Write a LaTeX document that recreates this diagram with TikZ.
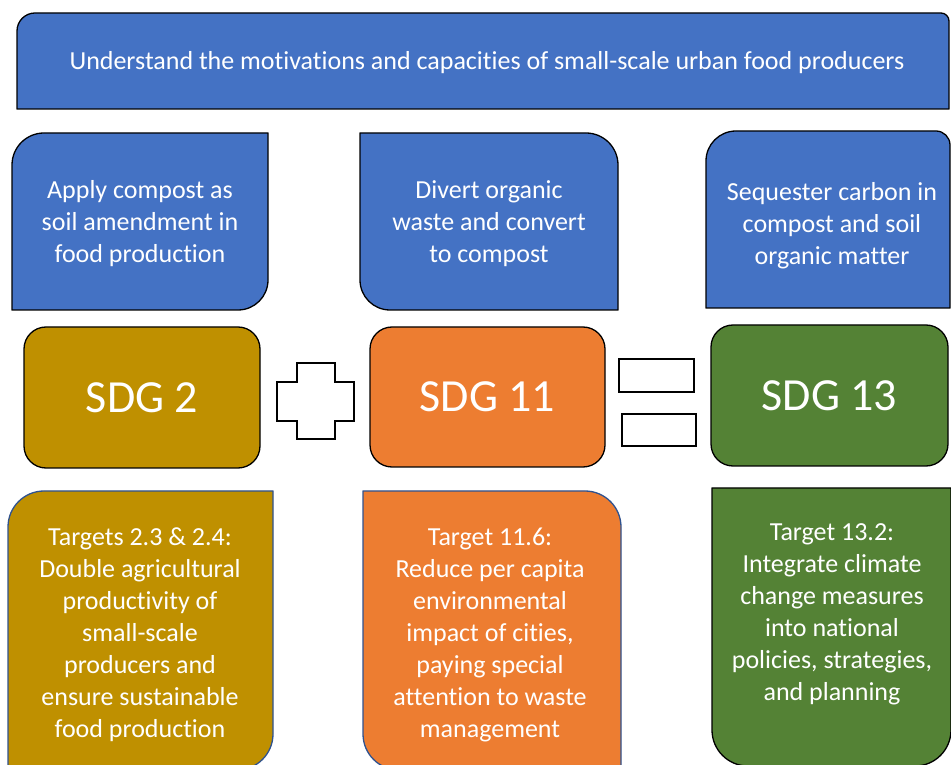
\documentclass[tikz,border=0pt]{standalone}
\usepackage{fontspec}
\setmainfont{Carlito}[Ligatures=CommonOff]
\definecolor{sdgblue}{HTML}{4472C4}
\definecolor{sdggold}{HTML}{BF9000}
\definecolor{sdgorange}{HTML}{ED7D31}
\definecolor{sdggreen}{HTML}{548235}
\definecolor{edgeblue}{HTML}{2F528F}
\tikzset{
  goalbox/.style={fill=sdgblue,draw=black,line width=1.3pt},
  targetbox/.style={draw=edgeblue,line width=1.3pt},
  sdgbox/.style={draw=black,line width=1.3pt,rounded corners=22pt,minimum width=236pt,minimum height=141pt,
    text=white,font=\fontsize{46}{50}\selectfont},
  signbox/.style={fill=white,draw=black,line width=1.3pt},
  boxtext/.style={text=white,align=center,font=\fontsize{26}{32}\selectfont}
}
% box with its own radius on each corner: style, x1, top, x2, bottom, r tl, r tr, r br, r bl
\newcommand{\cornerbox}[9]{%
  \draw[#1] (#2,#5+#9) -- (#2,#3-#6) arc[start angle=180,end angle=90,radius=#6]
    -- (#4-#7,#3) arc[start angle=90,end angle=0,radius=#7]
    -- (#4,#5+#8) arc[start angle=0,end angle=-90,radius=#8]
    -- (#2+#9,#5) arc[start angle=-90,end angle=-180,radius=#9] -- cycle;}
\begin{document}
\begin{tikzpicture}[x=1pt,y=1pt]
\useasboundingbox (0,0) rectangle (951,764);
% banner
\cornerbox{goalbox}{17}{751}{949}{655}{18}{8}{0.1}{0.1}
\node[boxtext,font=\fontsize{26}{30}\selectfont] (aim) at (487,701) {Understand the motivations and capacities of small-scale urban food producers};
% three actions
\cornerbox{goalbox}{12}{631}{268}{454}{32}{0.1}{30}{0.1}
\cornerbox{goalbox}{360}{631}{618}{454}{0.1}{32}{0.1}{30}
\cornerbox{goalbox}{706}{633}{950}{456}{30}{14}{0.1}{0.1}
\node[boxtext] (apply) at (140,540) {Apply compost as\\soil amendment in\\food production};
\node[boxtext] (divert) at (489,540) {Divert organic\\waste and convert\\to compost};
\node[boxtext] (sequester) at (832,538) {Sequester carbon in\\compost and soil\\organic matter};
% goals
\node[sdgbox,fill=sdggold] (sdg2) at (142,366.5) {SDG 2};
\node[sdgbox,fill=sdgorange,minimum width=235pt,minimum height=140pt] (sdg11) at (487.5,367) {SDG 11};
\node[sdgbox,fill=sdggreen,minimum width=237pt] (sdg13) at (829.5,368.5) {SDG 13};
% plus and equals
\draw[signbox] (297,401) -- (335,401) -- (335,382) -- (354,382) -- (354,343) -- (335,343) -- (335,325)
  -- (297,325) -- (297,343) -- (277,343) -- (277,382) -- (297,382) -- cycle;
\draw[signbox] (619,405) rectangle (694,372);
\draw[signbox] (622,350) rectangle (696,318);
% targets
\cornerbox{targetbox,fill=sdggold}{8}{273}{273}{-6}{36}{0.1}{36}{0.1}
\cornerbox{targetbox,fill=sdgorange}{363}{273}{621}{-6}{0.1}{36}{0.1}{36}
\cornerbox{goalbox,fill=sdggreen}{712}{276}{951}{-2}{0.1}{0.1}{36}{36}
\node[boxtext] (t2) at (140,129) {Targets 2.3 \& 2.4:\\Double agricultural\\productivity of\\small-scale\\producers and\\ensure sustainable\\food production};
\node[boxtext] (t11) at (490,129) {Target 11.6:\\Reduce per capita\\environmental\\impact of cities,\\paying special\\attention to waste\\management};
\node[boxtext] (t13) at (832,150) {Target 13.2:\\Integrate climate\\change measures\\into national\\policies, strategies,\\and planning};
\end{tikzpicture}
\end{document}
